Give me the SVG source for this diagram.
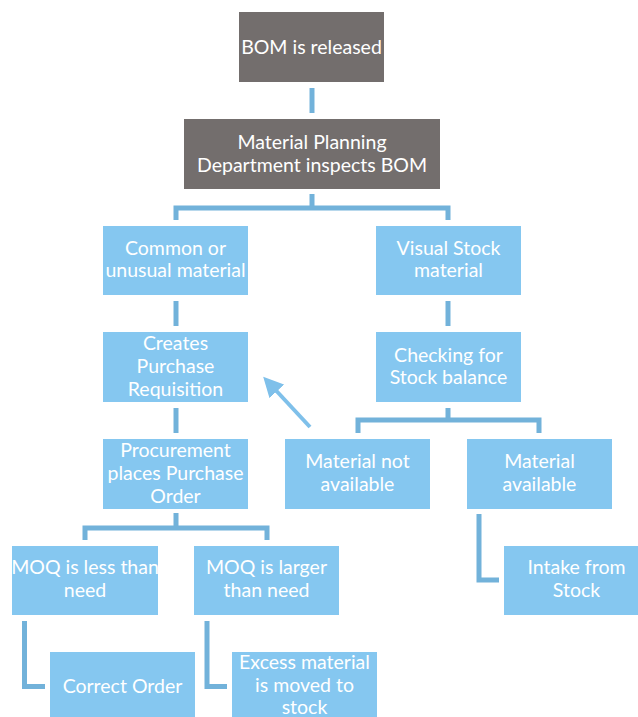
<svg xmlns="http://www.w3.org/2000/svg" width="638" height="717" viewBox="0 0 638 717">
<style>
.g{fill:#736e6d}
.b{fill:#85c7f0}
.t{fill:#ffffff;font-family:Lato,"Liberation Sans",sans-serif;font-size:19.5px;text-anchor:middle}
.c{fill:none;stroke:#72b2da;stroke-width:5}
.a{fill:none;stroke:#7fc0ea;stroke-width:4}
</style>
<defs>
<marker id="ah" markerWidth="5" markerHeight="5" refX="2.5" refY="2.5" orient="auto" markerUnits="strokeWidth">
<path d="M0,0 L5,2.5 L0,5 Z" fill="#7fc0ea"/>
</marker>
</defs>
<rect width="638" height="717" fill="#ffffff"/>
<g id="connectors">
<path class="c" d="M312,88 V113"/>
<path class="c" d="M312,194 V208 M176,220 V208 H448 V220"/>
<path class="c" d="M176,301 V326"/>
<path class="c" d="M448,301 V326"/>
<path class="c" d="M176,408 V433"/>
<path class="c" d="M448,408 V420 M358,433 V420 H539 V433"/>
<path class="c" d="M176,513 V528 M85,540 V528 H267 V540"/>
<path class="c" d="M24.5,621 V686.5 H45"/>
<path class="c" d="M207,621 V686.5 H227"/>
<path class="c" d="M479,514 V580 H499"/>
<path class="a" d="M310,427 L270,384" marker-end="url(#ah)"/>
</g>
<g id="n1"><rect class="g" x="239" y="12" width="145" height="70"/><text class="t" x="311.5" y="54">BOM is released</text></g>
<g id="n2"><rect class="g" x="184" y="119" width="256" height="70"/><text class="t" x="312" y="149">Material Planning</text><text class="t" x="312" y="172">Department inspects BOM</text></g>
<g id="n3"><rect class="b" x="103" y="226" width="145" height="69"/><text class="t" x="175.5" y="255">Common or</text><text class="t" x="175.5" y="277">unusual material</text></g>
<g id="n4"><rect class="b" x="376" y="226" width="145" height="69"/><text class="t" x="448.5" y="255">Visual Stock</text><text class="t" x="448.5" y="277">material</text></g>
<g id="n5"><rect class="b" x="103" y="332" width="145" height="70"/><text class="t" x="175.5" y="350">Creates</text><text class="t" x="175.5" y="373">Purchase</text><text class="t" x="175.5" y="396">Requisition</text></g>
<g id="n6"><rect class="b" x="376" y="332" width="145" height="70"/><text class="t" x="448.5" y="362">Checking for</text><text class="t" x="448.5" y="384">Stock balance</text></g>
<g id="n7"><rect class="b" x="103" y="439" width="145" height="70"/><text class="t" x="175.5" y="457">Procurement</text><text class="t" x="175.5" y="480">places Purchase</text><text class="t" x="175.5" y="503">Order</text></g>
<g id="n8"><rect class="b" x="285" y="439" width="145" height="70"/><text class="t" x="357.5" y="468">Material not</text><text class="t" x="357.5" y="491">available</text></g>
<g id="n9"><rect class="b" x="467" y="439" width="145" height="70"/><text class="t" x="539.5" y="468">Material</text><text class="t" x="539.5" y="491">available</text></g>
<g id="n10"><rect class="b" x="12" y="546" width="146" height="69"/><text class="t" x="85" y="574">MOQ is less than</text><text class="t" x="85" y="597">need</text></g>
<g id="n11"><rect class="b" x="194" y="546" width="145" height="69"/><text class="t" x="266.5" y="574">MOQ is larger</text><text class="t" x="266.5" y="597">than need</text></g>
<g id="n12"><rect class="b" x="504" y="546" width="145" height="69"/><text class="t" x="576.5" y="574">Intake from</text><text class="t" x="576.5" y="597">Stock</text></g>
<g id="n13"><rect class="b" x="50" y="652" width="145" height="70"/><text class="t" x="122.5" y="693">Correct Order</text></g>
<g id="n14"><rect class="b" x="232" y="652" width="145" height="70"/><text class="t" x="304.5" y="669">Excess material</text><text class="t" x="304.5" y="692">is moved to</text><text class="t" x="304.5" y="714">stock</text></g>
</svg>
